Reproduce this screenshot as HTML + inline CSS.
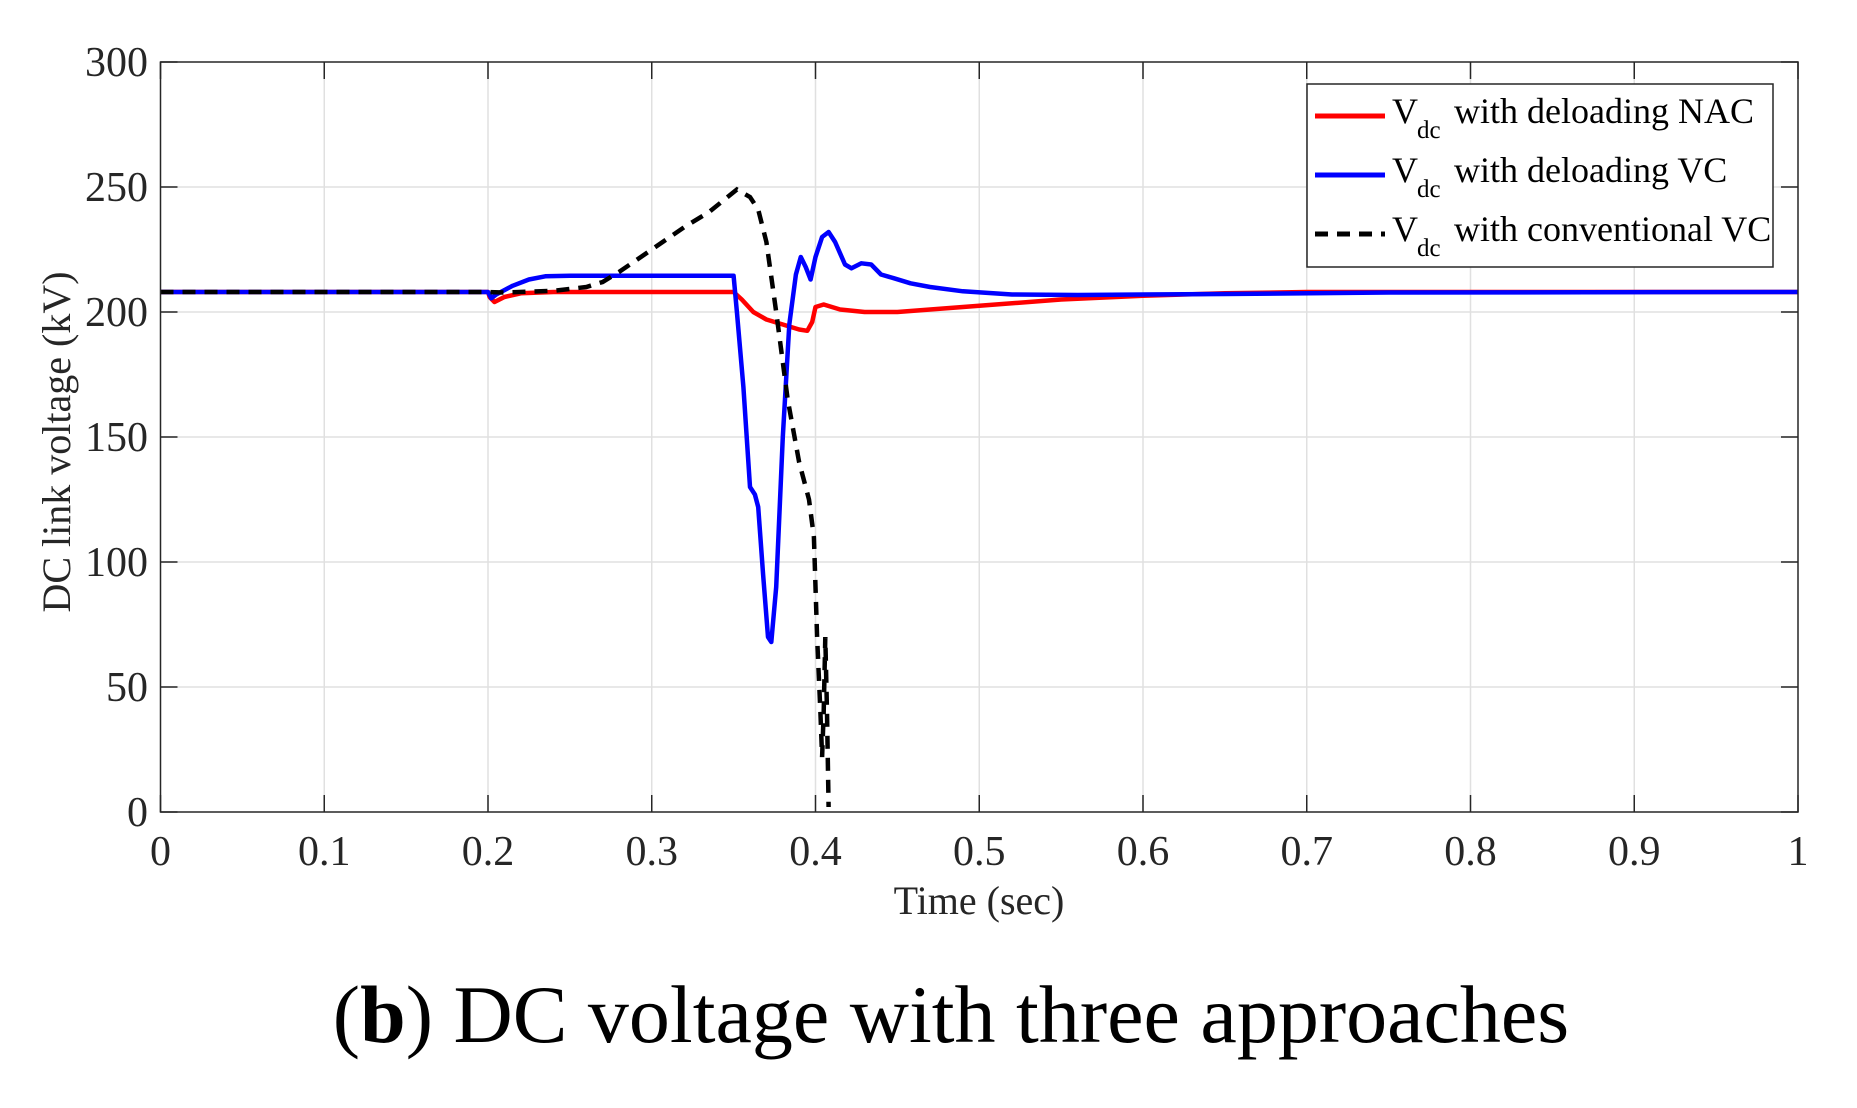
<!DOCTYPE html>
<html><head><meta charset="utf-8"><style>
html,body{margin:0;padding:0;background:#fff;}
svg{display:block;font-family:"Liberation Serif",serif;}
</style></head><body>
<svg id="s" width="1857" height="1108" viewBox="0 0 1857 1108" xmlns="http://www.w3.org/2000/svg">
<rect width="1857" height="1108" fill="#fff"/>
<g id="grid" stroke="#e0e0e0" stroke-width="1.5"></g>
<g id="ticks" stroke="#262626" stroke-width="1.5"></g>
<g id="labels" fill="#262626" font-size="42"></g>
<path id="red" fill="none" stroke="#ff0000" stroke-width="4.5" stroke-linejoin="round"/>
<path id="blue" fill="none" stroke="#0000ff" stroke-width="4.5" stroke-linejoin="round"/>
<path id="black" fill="none" stroke="#000" stroke-width="4.5" stroke-dasharray="13,9"/>
<rect x="160.5" y="62" width="1637.5" height="750" fill="none" stroke="#262626" stroke-width="1.5"/>
<rect x="1307" y="84" width="466" height="183" fill="#fff" stroke="#262626" stroke-width="1.5"/>
<line x1="1315" y1="116" x2="1385" y2="116" stroke="#ff0000" stroke-width="5"/>
<line x1="1315" y1="175" x2="1385" y2="175" stroke="#0000ff" stroke-width="5"/>
<line x1="1315" y1="234" x2="1385" y2="234" stroke="#000" stroke-width="5" stroke-dasharray="13,9"/>
<g font-size="36" fill="#000">
<text x="1392" y="123">V</text><text x="1417" y="138" font-size="25">dc</text><text x="1454" y="123">with deloading NAC</text>
<text x="1392" y="182">V</text><text x="1417" y="197" font-size="25">dc</text><text x="1454" y="182">with deloading VC</text>
<text x="1392" y="241">V</text><text x="1417" y="256" font-size="25">dc</text><text x="1454" y="241">with conventional VC</text>
</g>
<text x="979" y="914" text-anchor="middle" font-size="40" fill="#262626">Time (sec)</text>
<text transform="translate(70,442) rotate(-90)" text-anchor="middle" font-size="40" fill="#262626">DC link voltage (kV)</text>
<text x="951" y="1042" text-anchor="middle" font-size="82" fill="#000">(<tspan font-weight="bold">b</tspan>) DC voltage with three approaches</text>
</svg>
<script>
var L=160.5,W=1637.5,B=812,H=750;
function X(t){return L+W*t;}function Y(v){return B-H*v/300;}
var ns="http://www.w3.org/2000/svg";
function el(p,n,a,txt){var e=document.createElementNS(ns,n);for(var k in a)e.setAttribute(k,a[k]);if(txt!=null)e.textContent=txt;document.getElementById(p).appendChild(e);}
for(var i=1;i<10;i++){el('grid','line',{x1:X(i/10),x2:X(i/10),y1:62,y2:812});}
for(var j=1;j<6;j++){el('grid','line',{x1:L,x2:L+W,y1:Y(j*50),y2:Y(j*50)});}
for(var i=0;i<=10;i++){var x=X(i/10);el('ticks','line',{x1:x,x2:x,y1:812,y2:795});el('ticks','line',{x1:x,x2:x,y1:62,y2:79});
el('labels','text',{x:x,y:865,'text-anchor':'middle'},i==0?'0':i==10?'1':'0.'+i);}
for(var j=0;j<=6;j++){var y=Y(j*50);el('ticks','line',{x1:L,x2:L+17,y1:y,y2:y});el('ticks','line',{x1:L+W,x2:L+W-17,y1:y,y2:y});
el('labels','text',{x:148,y:y+14,'text-anchor':'end'},String(j*50));}
function path(id,d){var s='';d.forEach(function(p,k){s+=(k?'L':'M')+X(p[0]).toFixed(1)+','+Y(p[1]).toFixed(1);});document.getElementById(id).setAttribute('d',s);}
path('red',[[0,208],[0.2,208],[0.201,206],[0.204,204],[0.21,206],[0.22,207.5],[0.24,208],[0.35,208],[0.355,205],[0.362,200],[0.37,197],[0.38,195],[0.39,193],[0.395,192.5],[0.398,196],[0.4,202],[0.405,203],[0.415,201],[0.43,200],[0.45,200],[0.5,202.5],[0.55,205],[0.6,206.5],[0.65,207.5],[0.7,208],[1,208]]);
path('blue',[[0,208],[0.2,208],[0.202,205.5],[0.205,207],[0.215,210.5],[0.225,213],[0.235,214.3],[0.25,214.5],[0.35,214.5],[0.352,200],[0.356,170],[0.36,130],[0.363,127],[0.365,122],[0.368,95],[0.371,70],[0.373,68],[0.376,90],[0.38,150],[0.384,195],[0.388,215],[0.391,222],[0.394,218],[0.397,213],[0.4,222],[0.404,230],[0.408,232],[0.412,228],[0.418,219],[0.422,217.5],[0.428,219.5],[0.434,219],[0.44,215],[0.448,213.5],[0.458,211.5],[0.47,210],[0.49,208.3],[0.52,207],[0.56,206.8],[0.65,207.2],[0.75,207.8],[1,208]]);
path('black',[[0,208],[0.2,208],[0.21,207.8],[0.24,208.5],[0.26,210],[0.27,212],[0.28,216],[0.3,225],[0.32,234],[0.335,240],[0.352,249],[0.36,246],[0.365,241],[0.37,228],[0.376,200],[0.383,165],[0.39,140],[0.396,125],[0.399,110],[0.401,70],[0.403,40],[0.404,22],[0.405,40],[0.406,70],[0.407,40],[0.408,2]]);
</script>
</body></html>
